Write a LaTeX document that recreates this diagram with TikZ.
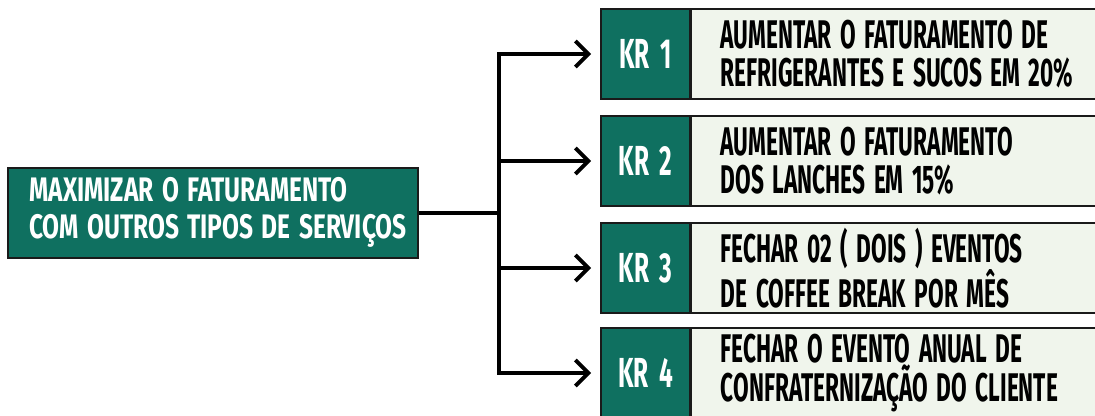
\documentclass[tikz,border=0pt]{standalone}
\usepackage{fontspec}
\setmainfont{Fira Sans}[FakeStretch=0.566, WordSpace=1.6]
\newfontfamily\goalfont{Fira Sans}[FakeStretch=0.72, WordSpace=1.45]
\newfontfamily\krfont{Fira Sans}[FakeStretch=0.58, WordSpace=1.8]
\usetikzlibrary{arrows.meta}
\definecolor{okrgreen}{HTML}{0F7060}
\definecolor{okrpale}{HTML}{F0F5EC}
\definecolor{okredge}{HTML}{1A1A1A}
\tikzset{
  goalbox/.style={draw=okredge, line width=1.6pt, fill=okrgreen,
    minimum width=410pt, minimum height=90pt},
  goallabel/.style={text=white, align=left, inner sep=0pt,
    font=\goalfont\bfseries\fontsize{34}{36.5}\selectfont},
  krlabel/.style={draw=okredge, line width=1.6pt, fill=okrgreen, text=white,
    minimum width=89pt, minimum height=90pt, font=\krfont\bfseries\fontsize{42}{46}\selectfont},
  krtext/.style={draw=okredge, line width=1.6pt, fill=okrpale, text=black,
    minimum width=412pt, minimum height=90pt, text width=412pt, align=flush left,
    inner xsep=0pt, anchor=west, font=\bfseries\fontsize{40}{38.5}\selectfont},
  link/.style={line width=4pt, draw=black},
  linkarrow/.style={link, -{Straight Barb[length=13pt, width=26pt]}}
}
\newcommand{\krline}[1]{\hspace*{30pt}#1}
\begin{document}
\begin{tikzpicture}[x=1pt, y=-1pt]
  \useasboundingbox (0,0) rectangle (1095,415);
  \clip (0,0) rectangle (1095,415);
  \fill[white] (0,0) rectangle (1095,415);

  % objective
  \node[goalbox] (goal) at (213,213) {};
  \node[goallabel, anchor=west] (goaltext) at ([xshift=22pt, yshift=0.5pt]goal.west)
    {MAXIMIZAR O FATURAMENTO\\COM OUTROS TIPOS DE SERVIÇOS};

  % key results
  \node[krlabel] (k1) at (645.5,54)  {KR 1};
  \node[krlabel] (k2) at (645.5,161) {KR 2};
  \node[krlabel] (k3) at (645.5,268) {KR 3};
  \node[krlabel] (k4) at (645.5,373) {KR 4};

  \node[krtext, xshift=-0.8pt] (t1) at (k1.east) {\krline{AUMENTAR O FATURAMENTO DE}\\\krline{REFRIGERANTES E SUCOS EM 20\%}};
  \node[krtext, xshift=-0.8pt] (t2) at (k2.east) {\krline{AUMENTAR O FATURAMENTO}\\\krline{DOS LANCHES EM 15\%}};
  \node[krtext, xshift=-0.8pt] (t3) at (k3.east) {\krline{FECHAR 02 ( DOIS ) EVENTOS}\\\krline{DE COFFEE BREAK POR MÊS}};
  \node[krtext, xshift=-0.8pt] (t4) at (k4.east) {\krline{FECHAR O EVENTO ANUAL DE}\\\krline{CONFRATERNIZAÇÃO DO CLIENTE}};

  % tree connector
  \coordinate (fork) at (499,213);
  \coordinate (top) at (499,54);
  \coordinate (bottom) at (499,373);
  \draw[link] (goal.east) -- (fork);
  \draw[link, line cap=rect] (top) -- (bottom);
  \draw[linkarrow] (top) -- ([xshift=-9pt]k1.west);
  \draw[linkarrow] (499,161) -- ([xshift=-9pt]k2.west);
  \draw[linkarrow] (499,268) -- ([xshift=-9pt]k3.west);
  \draw[linkarrow] (bottom) -- ([xshift=-9pt]k4.west);
\end{tikzpicture}
\end{document}
